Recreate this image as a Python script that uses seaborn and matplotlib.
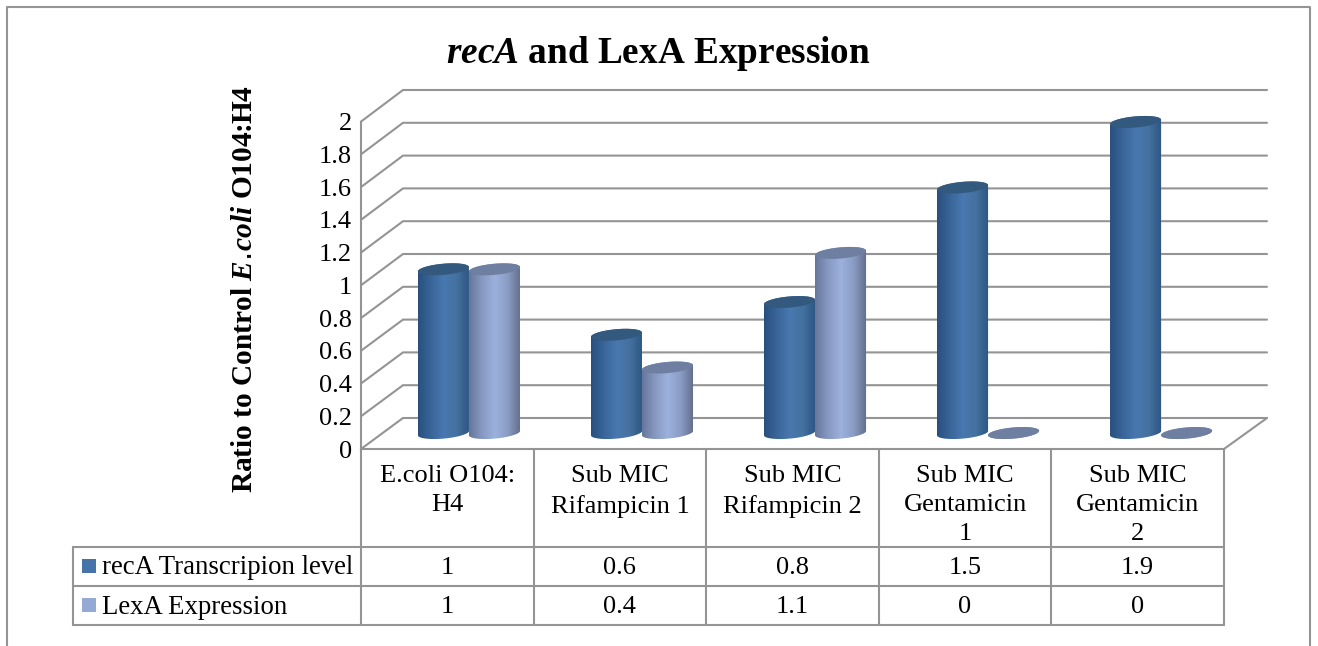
import numpy as np
import pandas as pd
import matplotlib
matplotlib.use("Agg")
import matplotlib.pyplot as plt
from matplotlib.colors import LinearSegmentedColormap
from matplotlib.patches import Rectangle
from matplotlib.path import Path
import seaborn as sns

categories = ["E.coli O104:\nH4", "Sub MIC\nRifampicin 1", "Sub MIC\nRifampicin 2",
              "Sub MIC\nGentamicin\n1", "Sub MIC\nGentamicin\n2"]
reca_values = [1, 0.6, 0.8, 1.5, 1.9]
lexa_values = [1, 0.4, 1.1, 0, 0]
series_names = ["recA Transcripion level", "LexA Expression"]
y_ticks = [0, 0.2, 0.4, 0.6, 0.8, 1, 1.2, 1.4, 1.6, 1.8, 2]

W, H = 1318, 646
GREY = "#949494"

sns.set_theme(style="white")
plt.rcParams["font.family"] = ["Liberation Serif"]
plt.rcParams["mathtext.fontset"] = "custom"
plt.rcParams["mathtext.it"] = "Liberation Serif:italic:bold"
plt.rcParams["mathtext.default"] = "regular"


def make_axes(fig, left, top, right, bottom, z):
    ax = fig.add_axes([left / W, 1 - bottom / H, (right - left) / W, (bottom - top) / H])
    ax.set_zorder(z)
    ax.patch.set_alpha(0)
    return ax


fig = plt.figure(figsize=(W / 100, H / 100), dpi=100, facecolor="white")

# page layer in pixels: frame, walls and data table
page = make_axes(fig, 0, 0, W, H, 0)
page.set_xlim(0, W)
page.set_ylim(H, 0)
page.axis("off")

# outer frame has no bottom edge
page.plot([6.5, 6.5, 1310, 1310], [646, 7, 7, 646], color=GREY, lw=1.5)

# front plane holds the value axis and the category labels
front = make_axes(fig, 361, 121.7, 1224, 449, 1)
front.set_xlim(-0.5, 4.5)
front.set_ylim(0, 2)
front.set_yticks(y_ticks)
front.set_yticklabels([f"{v:g}" for v in y_ticks], fontsize=19)
front.tick_params(axis="y", length=0, pad=6.5, labelcolor="black")
front.set_xticks(range(5))
front.set_xticklabels(categories, fontsize=19, linespacing=1.42, va="top", color="black")
front.tick_params(axis="x", length=0, pad=11.5)
sns.despine(ax=front, top=True, right=True)
front.spines["left"].set_color(GREY)
front.spines["left"].set_linewidth(1.5)
front.spines["bottom"].set_color(GREY)
front.spines["bottom"].set_linewidth(1.5)
front.set_ylabel(r"Ratio to Control $\mathit{E.\!coli}$ O104:H4", fontsize=21.2, fontweight="bold",
                 color="black", y=0.49, labelpad=44)
front.set_title(r"$\mathit{recA}$ and LexA Expression", fontsize=26.8, fontweight="bold",
                color="black", x=0.344, y=1.18, pad=0)

# grid runs up the side wall and along the back wall
for v in y_ticks:
    page.plot([361, 403, 1267], [449 - 163.7 * v, 418 - 164 * v, 418 - 164 * v],
              color=GREY, lw=1.5, solid_joinstyle="miter")
page.plot([1224, 1267], [449, 418], color=GREY, lw=1.5)

# data table
col_edges = [361, 533.5, 706, 878.5, 1051, 1224]
for x in col_edges:
    page.plot([x, x], [449, 625], color=GREY, lw=1.5)
for y in [547, 586, 625]:
    page.plot([73, 1224], [y, y], color=GREY, lw=1.5)
page.plot([73, 73], [547, 625], color=GREY, lw=1.5)

for row_y, name, values, key in zip([566, 605], series_names, [reca_values, lexa_values],
                                    ["#4673a8", "#94a9d3"]):
    page.add_patch(Rectangle((82, row_y - 7), 14, 14, color=key, lw=0))
    page.text(102, row_y + 2, name, fontsize=19.3, va="center", ha="left", color="black")
    for i, val in enumerate(values):
        page.text((col_edges[i] + col_edges[i + 1]) / 2, row_y + 2, f"{val:g}", fontsize=19,
                  va="center", ha="center", color="black")

# bars sit inside the box, between front and back planes
bars_ax = make_axes(fig, 382.4, 105.6, 1247.6, 449.4, 2)
df = pd.DataFrame({
    "category": categories * 2,
    "series": [series_names[0]] * 5 + [series_names[1]] * 5,
    "value": reca_values + lexa_values,
})
sns.barplot(data=df, x="category", y="value", hue="series", hue_order=series_names,
            palette=["#4673a8", "#94a9d3"], width=0.59, gap=0, saturation=1,
            legend=False, ax=bars_ax)
bars_ax.axis("off")

shades = [
    LinearSegmentedColormap.from_list("reca", ["#28507f", "#3a659a", "#4878b0", "#44719f", "#2c5583"]),
    LinearSegmentedColormap.from_list("lexa", ["#66769a", "#8799c2", "#9bb1dd", "#8a9cc4", "#606c8a"]),
]
top_colors = ["#34597f", "#6f7fa1"]
B = 5.6 / 164  # half height of an end cap
S = 2.2 / 164  # tilt of an end cap


def cap(cx, cy, a, t):
    return np.column_stack([cx + a * np.cos(t), cy + B * np.sin(t) + S * np.cos(t)])


for n, patch in enumerate(bars_ax.patches):
    s = n // 5
    x0, w, h = patch.get_x(), patch.get_width(), patch.get_height()
    cx, a = x0 + w / 2, w / 2
    t_low = np.linspace(np.pi, 2 * np.pi, 60)
    t_up = np.linspace(0, np.pi, 60)
    body = np.vstack([cap(cx, 0, a, t_low), cap(cx, h, a, t_up)])
    outline = Path(np.vstack([body, body[:1]]), closed=True)
    z = 3 + s
    patch.set_zorder(z)
    patch.set_clip_path(outline, bars_ax.transData)
    im = bars_ax.imshow(np.linspace(0, 1, 256).reshape(1, -1), extent=[x0, x0 + w, -0.1, h + 0.1],
                        aspect="auto", cmap=shades[s], zorder=z + 0.1, interpolation="bilinear")
    im.set_clip_path(outline, bars_ax.transData)
    bars_ax.fill(*cap(cx, h, a, np.linspace(0, 2 * np.pi, 120)).T, color=top_colors[s],
                 lw=0, zorder=z + 0.2, clip_on=False)
bars_ax.set_xlim(-0.5, 4.5)
bars_ax.set_ylim(-0.1, 2)

fig.savefig("out.png", dpi=100)
